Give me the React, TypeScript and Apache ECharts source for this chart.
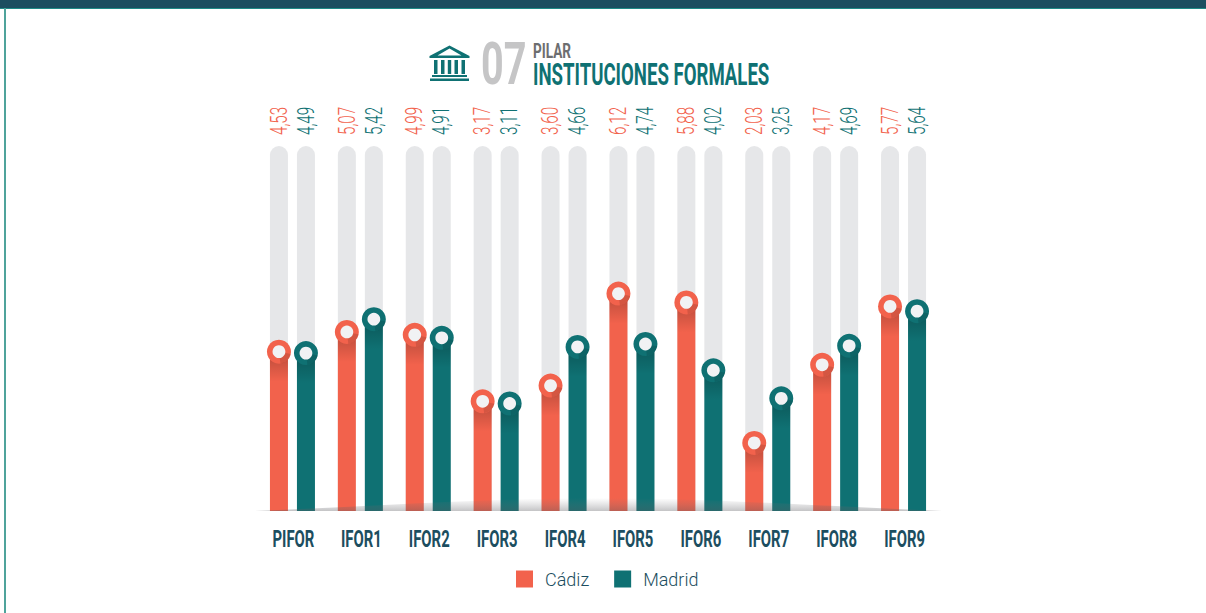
import React, { useEffect, useRef } from "react";
import * as echarts from "echarts";

const categories = ["PIFOR", "IFOR1", "IFOR2", "IFOR3", "IFOR4", "IFOR5", "IFOR6", "IFOR7", "IFOR8", "IFOR9"];
const cadiz = [4.53, 5.07, 4.99, 3.17, 3.6, 6.12, 5.88, 2.03, 4.17, 5.77];
const madrid = [4.49, 5.42, 4.91, 3.11, 4.66, 4.74, 4.02, 3.25, 4.69, 5.64];
const TRACK_MAX = 10;

const ORANGE = "#F2624C";
const TEAL = "#0F7173";
const NAVY = "#1C4E60";
const OFFSET = 13.5;

echarts.graphic.registerShape(
  "groundShadow",
  echarts.graphic.extendPath("M255 511 C400 505 500 498 598 498 C700 498 800 505 942 511 Z", {})
);
echarts.graphic.registerShape(
  "bankIcon",
  echarts.graphic.extendPath(
    "M449.5 45.5 L469.5 56 L469.5 58 L429.5 58 L429.5 56 L449.5 45.5 Z M449.5 48.5 L437.5 55.5 L461.5 55.5 Z M434 60 L437.5 60 L437.5 74 L434 74 Z M441 60 L444.5 60 L444.5 74 L441 74 Z M454.5 60 L458 60 L458 74 L454.5 74 Z M461.5 60 L465 60 L465 74 L461.5 74 Z M447.8 60 L451.2 60 L451.2 74 L447.8 74 Z M432 75 L467 75 L467 77 L432 77 Z M430 78.5 L469 78.5 L469 81 L430 81 Z",
    {}
  )
);

const markerSeries = (name: string, values: number[], dir: number, color: string) => ({
  type: "custom",
  name,
  silent: true,
  clip: false,
  z: 4,
  data: values.map((v, i) => [i, v]),
  encode: { x: 0, y: 1 },
  renderItem: (params: any, api: any) => {
    const p = api.coord([api.value(0), api.value(1)]);
    const x = p[0] + dir * OFFSET;
    const y = p[1] + 6;
    const base = api.coord([api.value(0), 0])[1];
    return {
      type: "group",
      children: [
        {
          type: "rect",
          shape: { x: x - 9, y, width: 18, height: Math.min(30, base - y) },
          style: {
            fill: new echarts.graphic.LinearGradient(0, 0, 0, 1, [
              { offset: 0, color: "rgba(0,0,0,0.24)" },
              { offset: 1, color: "rgba(0,0,0,0)" },
            ]),
          },
        },
        { type: "circle", shape: { cx: x, cy: y, r: 12 }, style: { fill: color } },
        {
          type: "sector",
          shape: { cx: x, cy: y, r: 12, r0: 6, startAngle: 0.2, endAngle: 1.45, clockwise: true },
          style: { fill: "rgba(0,0,0,0.12)" },
        },
        { type: "circle", shape: { cx: x, cy: y, r: 6.4 }, style: { fill: "#F1F2F4" } },
      ],
    };
  },
});

const valueLabelSeries = (name: string, values: number[], dir: number, color: string) => ({
  type: "custom",
  name,
  silent: true,
  clip: false,
  z: 5,
  data: values.map((v, i) => [i, v]),
  encode: { x: 0 },
  renderItem: (params: any, api: any) => {
    const x = api.coord([api.value(0), 0])[0] + dir * OFFSET;
    return {
      type: "text",
      x,
      y: 135,
      rotation: Math.PI / 2,
      scaleX: 0.66,
      style: {
        text: api.value(1).toFixed(2).replace(".", ","),
        fill: color,
        font: "300 23px Roboto",
        align: "left",
        verticalAlign: "middle",
      },
    };
  },
});

const categoryLabelSeries = {
  type: "custom",
  name: "categorias",
  silent: true,
  clip: false,
  z: 5,
  data: categories.map((c, i) => [i, 0]),
  encode: { x: 0 },
  renderItem: (params: any, api: any) => {
    const i = api.value(0);
    const x = api.coord([i, 0])[0];
    return {
      type: "text",
      x: x + 1,
      y: 539,
      scaleX: 0.62,
      style: {
        text: categories[i],
        fill: NAVY,
        font: "bold 24px Roboto",
        align: "center",
        verticalAlign: "middle",
      },
    };
  },
};

const barSeries = (name: string, values: number[], color: string) => ({
  type: "bar",
  name,
  data: values,
  barWidth: 18,
  barGap: "50%",
  silent: true,
  itemStyle: { color },
  showBackground: true,
  backgroundStyle: { color: "#E6E7E9", borderRadius: [9, 9, 0, 0] },
});

export default function App() {
  const ref = useRef<HTMLDivElement>(null);
  useEffect(() => {
    const chart = echarts.init(ref.current!, undefined, { renderer: "svg" });
    chart.setOption({
      animation: false,
      backgroundColor: "#FFFFFF",
      grid: { left: 258.5, width: 679, top: 146, bottom: 102 },
      xAxis: {
        type: "category",
        data: categories,
        axisLine: { show: false },
        axisTick: { show: false },
        axisLabel: { show: false },
      },
      yAxis: { type: "value", min: 0, max: TRACK_MAX, show: false, splitLine: { show: false } },
      legend: {
        data: ["Cádiz", "Madrid"],
        left: 516,
        top: 570,
        padding: 0,
        icon: "rect",
        itemWidth: 17,
        itemHeight: 17,
        itemGap: 25,
        selectedMode: false,
        textStyle: {
          color: NAVY,
          fontFamily: "Roboto",
          fontWeight: 300,
          fontSize: 18,
          padding: [0, 0, 0, 7],
        },
      },
      series: [
        barSeries("Cádiz", cadiz, ORANGE),
        barSeries("Madrid", madrid, TEAL),
        markerSeries("Cádiz marcadores", cadiz, -1, ORANGE),
        markerSeries("Madrid marcadores", madrid, 1, TEAL),
        valueLabelSeries("Cádiz valores", cadiz, -1, ORANGE),
        valueLabelSeries("Madrid valores", madrid, 1, TEAL),
        categoryLabelSeries,
      ],
      graphic: [
        { type: "rect", z: 20, shape: { x: 0, y: 0, width: 1206, height: 8 }, style: { fill: NAVY } },
        { type: "rect", z: 20, shape: { x: 0, y: 8, width: 1206, height: 1 }, style: { fill: "#1E8A86" } },
        { type: "rect", z: 20, shape: { x: 4, y: 8, width: 2, height: 605 }, style: { fill: "#4FA39B" } },
        {
          type: "groundShadow",
          z: 10,
          style: {
            fill: new echarts.graphic.LinearGradient(0, 0, 0, 1, [
              { offset: 0, color: "rgba(120,120,125,0)" },
              { offset: 1, color: "rgba(90,90,95,0.36)" },
            ]),
          },
        },
        { type: "bankIcon", z: 20, style: { fill: TEAL } },
        {
          type: "text",
          z: 20,
          x: 481,
          y: 63,
          scaleX: 0.66,
          style: { text: "07", fill: "#C5C5C6", font: "bold 60px Roboto", verticalAlign: "middle" },
        },
        {
          type: "text",
          z: 20,
          x: 533,
          y: 51,
          scaleX: 0.68,
          style: { text: "PILAR", fill: "#6D6E70", font: "bold 20px Roboto", verticalAlign: "middle" },
        },
        {
          type: "text",
          z: 20,
          x: 533,
          y: 74,
          scaleX: 0.6,
          style: { text: "INSTITUCIONES FORMALES", fill: TEAL, font: "bold 31px Roboto", verticalAlign: "middle" },
        },
      ],
    });
    return () => chart.dispose();
  }, []);
  return <div ref={ref} style={{ position: "absolute", left: 0, top: 0, width: 1206, height: 613 }} />;
}
